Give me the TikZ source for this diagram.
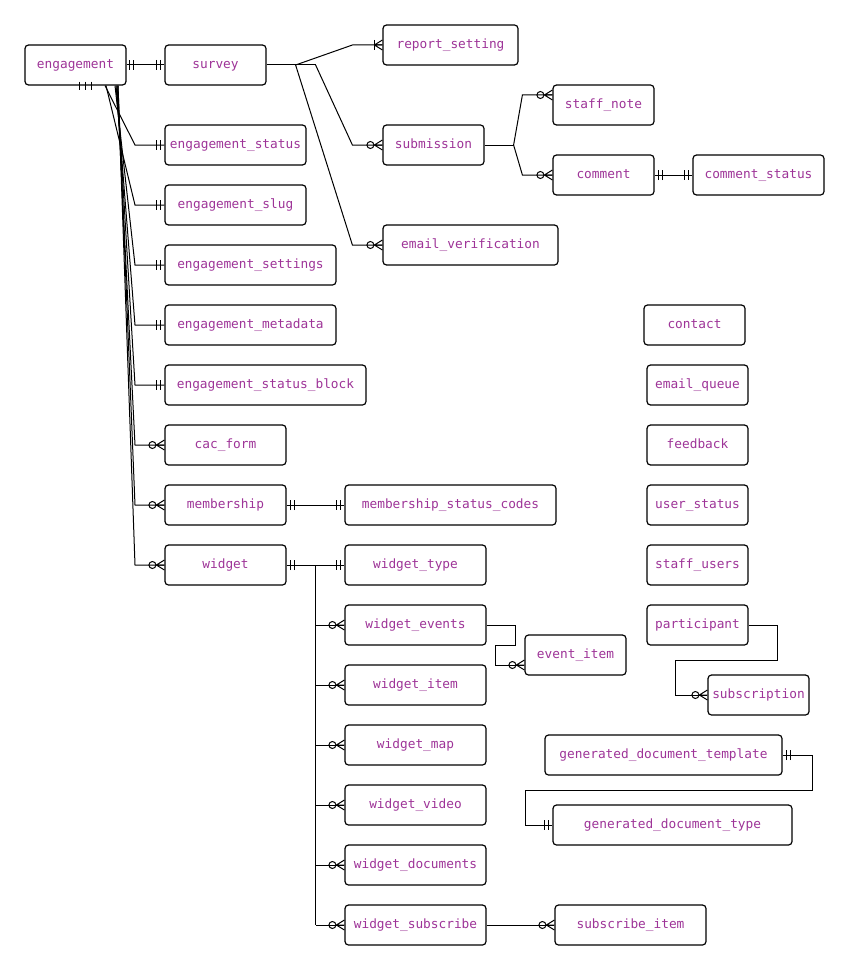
\documentclass[tikz,border=0pt]{standalone}
\usepackage{fontspec}
\setmonofont{DejaVu Sans Mono}
\usetikzlibrary{calc}
\definecolor{entitytext}{RGB}{158,52,152}
\tikzset{
  entity/.style={draw=black, line width=1.2pt, rounded corners=3.5pt, minimum height=40pt,
    inner sep=0pt, text height=8.5pt, text depth=1.5pt, text=entitytext,
    font=\ttfamily\fontsize{12.8}{14}\selectfont},
  rel/.style={draw=black, line width=1pt},
  % exactly one: two bars just before the entity edge
  mandone/.pic={\draw[line width=1pt] (-4,-5)--(-4,5) (-8,-5)--(-8,5);},
  % zero or many: ring and crow's foot
  zeromany/.pic={\draw[line width=1pt] (-12,0) circle (3.5);
    \draw[line width=1pt] (-8,0)--(0,-5) (-8,0)--(0,0) (-8,0)--(0,5);},
  % one or many: bar and crow's foot
  onemany/.pic={\draw[line width=1pt] (-8,-5)--(-8,5);
    \draw[line width=1pt] (-8,0)--(0,-5) (-8,0)--(0,0) (-8,0)--(0,5);}
}
\begin{document}
\begin{tikzpicture}[x=1pt,y=-1pt]
\useasboundingbox[fill=white] (0,0) rectangle (849,971);

% entities
\node[entity, minimum width=101pt] (engagement) at (75.5,65) {engagement};
\node[entity, minimum width=101pt] (survey) at (215.5,65) {survey};
\node[entity, minimum width=135pt] (report_setting) at (450.5,45) {report\_setting};
\node[entity, minimum width=101pt] (staff_note) at (603.5,105) {staff\_note};
\node[entity, minimum width=101pt] (submission) at (433.5,145) {submission};
\node[entity, minimum width=101pt] (comment) at (603.5,175) {comment};
\node[entity, minimum width=131pt] (comment_status) at (758.5,175) {comment\_status};
\node[entity, minimum width=175pt] (email_verification) at (470.5,245) {email\_verification};
\node[entity, minimum width=141pt] (engagement_status) at (235.5,145) {engagement\_status};
\node[entity, minimum width=141pt] (engagement_slug) at (235.5,205) {engagement\_slug};
\node[entity, minimum width=171pt] (engagement_settings) at (250.5,265) {engagement\_settings};
\node[entity, minimum width=171pt] (engagement_metadata) at (250.5,325) {engagement\_metadata};
\node[entity, minimum width=201pt] (engagement_status_block) at (265.5,385) {engagement\_status\_block};
\node[entity, minimum width=121pt] (cac_form) at (225.5,445) {cac\_form};
\node[entity, minimum width=121pt] (membership) at (225.5,505) {membership};
\node[entity, minimum width=211pt] (membership_status_codes) at (450.5,505) {membership\_status\_codes};
\node[entity, minimum width=121pt] (widget) at (225.5,565) {widget};
\node[entity, minimum width=141pt] (widget_type) at (415.5,565) {widget\_type};
\node[entity, minimum width=141pt] (widget_events) at (415.5,625) {widget\_events};
\node[entity, minimum width=101pt] (event_item) at (575.5,655) {event\_item};
\node[entity, minimum width=141pt] (widget_item) at (415.5,685) {widget\_item};
\node[entity, minimum width=141pt] (widget_map) at (415.5,745) {widget\_map};
\node[entity, minimum width=141pt] (widget_video) at (415.5,805) {widget\_video};
\node[entity, minimum width=141pt] (widget_documents) at (415.5,865) {widget\_documents};
\node[entity, minimum width=141pt] (widget_subscribe) at (415.5,925) {widget\_subscribe};
\node[entity, minimum width=151pt] (subscribe_item) at (630.5,925) {subscribe\_item};
\node[entity, minimum width=101pt] (contact) at (694.5,325) {contact};
\node[entity, minimum width=101pt] (email_queue) at (697.5,385) {email\_queue};
\node[entity, minimum width=101pt] (feedback) at (697.5,445) {feedback};
\node[entity, minimum width=101pt] (user_status) at (697.5,505) {user\_status};
\node[entity, minimum width=101pt] (staff_users) at (697.5,565) {staff\_users};
\node[entity, minimum width=101pt] (participant) at (697.5,625) {participant};
\node[entity, minimum width=101pt] (subscription) at (758.5,695) {subscription};
\node[entity, minimum width=237pt] (generated_document_template) at (663.5,755) {generated\_document\_template};
\node[entity, minimum width=239pt] (generated_document_type) at (672.5,825) {generated\_document\_type};

% engagement -- survey
\draw[rel] (engagement.east) -- (survey.west);
\pic[rotate=180] at ($(engagement.east)+(-1,0)$) {mandone};
\pic at (survey.west) {mandone};

% engagement one-side marks on the bottom edge
\draw[line width=1pt]
  ($(engagement.south)+(3.5,-4)$) -- ++(0,8)
  ($(engagement.south)+(9.5,-4)$) -- ++(0,8)
  ($(engagement.south)+(15.5,-4)$) -- ++(0,8);

% engagement fan to its dependants
\coordinate (trunk) at (135,0);
\draw[rel] ($(engagement.south)+(29.5,0)$) -- (trunk |- engagement_status.west) -- (engagement_status.west);
\draw[rel] ($(engagement.south)+(30.5,0)$) -- (trunk |- engagement_slug.west) -- (engagement_slug.west);
\draw[rel] ($(engagement.south)+(39.5,0)$) -- (trunk |- engagement_settings.west) -- (engagement_settings.west);
\draw[rel] ($(engagement.south)+(40.5,0)$) -- (trunk |- engagement_metadata.west) -- (engagement_metadata.west);
\draw[rel] ($(engagement.south)+(41.5,0)$) -- (trunk |- engagement_status_block.west) -- (engagement_status_block.west);
\draw[rel] ($(engagement.south)+(41.5,0)$) -- (trunk |- cac_form.west) -- (cac_form.west);
\draw[rel] ($(engagement.south)+(42.5,0)$) -- (trunk |- membership.west) -- (membership.west);
\draw[rel] ($(engagement.south)+(42.5,0)$) -- (trunk |- widget.west) -- (widget.west);
\pic at (engagement_status.west) {mandone};
\pic at (engagement_slug.west) {mandone};
\pic at (engagement_settings.west) {mandone};
\pic at (engagement_metadata.west) {mandone};
\pic at (engagement_status_block.west) {mandone};
\pic at (cac_form.west) {zeromany};
\pic at (membership.west) {zeromany};
\pic at (widget.west) {zeromany};

% survey fan
\coordinate (sfork) at ($(survey.east)+(29,0)$);
\coordinate (sfork2) at ($(survey.east)+(49,0)$);
\draw[rel] (survey.east) -- (sfork2);
\draw[rel] (sfork) -- ($(report_setting.west)+(-30,0)$) -- (report_setting.west);
\draw[rel] (sfork2) -- ($(submission.west)+(-30,0)$) -- (submission.west);
\draw[rel] (sfork) -- ($(email_verification.west)+(-30,0)$) -- (email_verification.west);
\pic at (report_setting.west) {onemany};
\pic at (submission.west) {zeromany};
\pic at (email_verification.west) {zeromany};

% submission fan
\coordinate (subfork) at ($(submission.east)+(29,0)$);
\draw[rel] (submission.east) -- (subfork);
\draw[rel] (subfork) -- ($(staff_note.west)+(-30,-10)$) -- ($(staff_note.west)+(0,-10)$);
\draw[rel] (subfork) -- ($(comment.west)+(-30,0)$) -- (comment.west);
\pic at ($(staff_note.west)+(0,-10)$) {zeromany};
\pic at (comment.west) {zeromany};

% comment -- comment_status
\draw[rel] (comment.east) -- (comment_status.west);
\pic[rotate=180] at (comment.east) {mandone};
\pic at (comment_status.west) {mandone};

% membership -- membership_status_codes
\draw[rel] (membership.east) -- (membership_status_codes.west);
\pic[rotate=180] at (membership.east) {mandone};
\pic at (membership_status_codes.west) {mandone};

% widget and its children
\coordinate (wtrunk) at ($(widget.east)+(29,0)$);
\draw[rel] (widget.east) -- (widget_type.west);
\pic[rotate=180] at (widget.east) {mandone};
\pic at (widget_type.west) {mandone};
\draw[rel] (wtrunk) -- (wtrunk |- widget_subscribe.west);
\foreach \w in {widget_events,widget_item,widget_map,widget_video,widget_documents,widget_subscribe}{
  \draw[rel] (wtrunk |- \w.west) -- (\w.west);
  \pic at (\w.west) {zeromany};
}

% widget_events -- event_item
\draw[rel] (widget_events.east) -- ++(29,0) -- ++(0,20) -- ++(-20,0) -- ++(0,20) -- ($(event_item.west)+(0,10)$);
\pic at ($(event_item.west)+(0,10)$) {zeromany};

% widget_subscribe -- subscribe_item
\draw[rel] (widget_subscribe.east) -- (subscribe_item.west);
\pic at (subscribe_item.west) {zeromany};

% participant -- subscription
\draw[rel] (participant.east) -- ++(29,0) -- ++(0,35) -- ++(-102,0) -- ++(0,35) -- (subscription.west);
\pic at (subscription.west) {zeromany};

% generated_document_template -- generated_document_type
\draw[rel] (generated_document_template.east) -- ++(30,0) -- ++(0,35) -- ++(-287,0) -- ++(0,35) -- (generated_document_type.west);
\pic[rotate=180] at (generated_document_template.east) {mandone};
\pic at (generated_document_type.west) {mandone};
\end{tikzpicture}
\end{document}
